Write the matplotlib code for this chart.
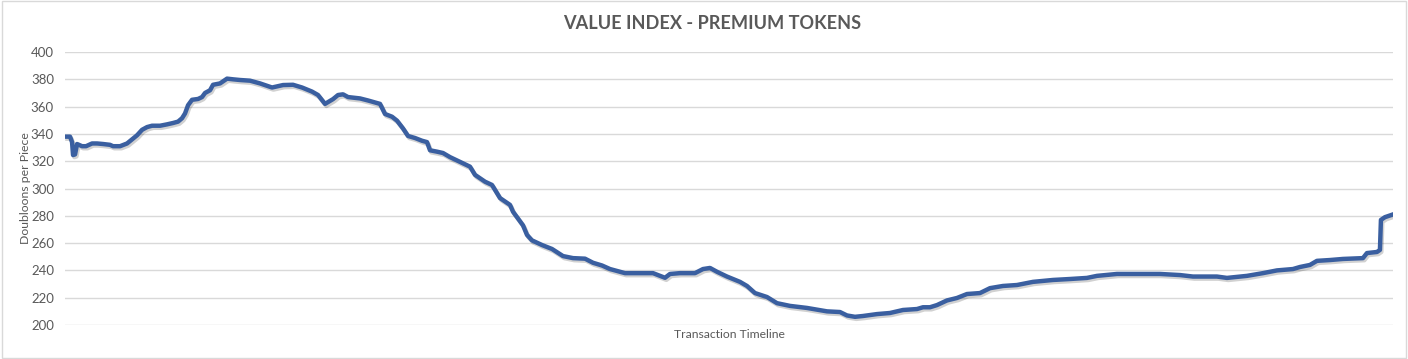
import matplotlib
matplotlib.use("Agg")
from matplotlib import pyplot as plt
import matplotlib.patheffects as pe

# value index (transaction position, doubloons per piece)
# rows of ten so the two lists line up
timeline = [1, 5, 7, 8, 10, 12, 17, 21, 27, 32,
            38, 45, 48, 55, 62, 67, 72, 77, 82, 87,
            95, 102, 108, 113, 117, 120, 123, 127, 133, 137,
            140, 145, 148, 155, 162, 168, 175, 185, 195, 207,
            218, 228, 237, 247, 253, 260, 268, 273, 278, 283,
            295, 303, 315, 320, 327, 332, 338, 343, 350, 357,
            362, 365, 372, 378, 385, 395, 405, 410, 420, 427,
            435, 445, 448, 458, 462, 467, 477, 487, 498, 508,
            520, 528, 537, 545, 560, 588, 595, 600, 605, 615,
            630, 638, 645, 652, 662, 675, 682, 690, 702, 712,
            725, 742, 762, 775, 782, 790, 798, 812, 825, 838,
            852, 858, 865, 872, 882, 892, 902, 915, 925, 938,
            952, 968, 988, 1005, 1022, 1032, 1052, 1095, 1115, 1128,
            1152, 1162, 1182, 1198, 1212, 1228, 1235, 1245, 1252, 1265,
            1278, 1298, 1302, 1312, 1315, 1316, 1320, 1328]
doubloons = [338, 338, 334, 324.5, 325, 332.6, 331, 331, 333, 333,
             332.6, 332, 331, 331, 333, 336, 339, 343, 345, 346,
             346, 347, 348, 349, 351.5, 355, 361, 365, 365.6, 367,
             370, 372, 376, 377, 380.5, 380, 379.5, 379, 377, 374,
             375.8, 376, 374, 371, 368.5, 362, 365.5, 368.5, 369, 367,
             366, 364.5, 362, 354.6, 352.6, 349.7, 344, 338.5, 337, 335,
             334, 328, 327, 326, 323, 319.5, 316, 310, 305, 302.6,
             293, 288, 283, 273, 266, 262, 258.6, 255.7, 250.5, 249,
             248.6, 245.6, 243.6, 241, 238, 238, 236, 234.6, 237.4, 238,
             238, 241, 241.8, 239, 235.5, 231.6, 228.6, 223.4, 220.5, 216,
             214, 212.5, 210, 209.5, 207, 206, 206.6, 208, 208.8, 211,
             211.7, 213, 213, 214.6, 218, 219.8, 222.7, 223.4, 227, 228.6,
             229.3, 231.6, 233, 233.7, 234.5, 236, 237.4, 237.4, 236.6, 235.5,
             235.5, 234.5, 236, 238, 240, 241, 242.5, 244, 247, 247.6,
             248.4, 249, 252.7, 253.5, 255, 277, 279, 281]

y_ticks = [200, 220, 240, 260, 280, 300, 320, 340, 360, 380, 400]

text_gray = "#595959"
line_blue = "#3A5FA0"

fig = plt.figure(figsize=(14.08, 3.59), dpi=100)
fig.patch.set_facecolor("white")
# light border around the whole chart
fig.add_artist(plt.Rectangle((0.0015, 0.003), 0.997, 0.994, transform=fig.transFigure,
                             fill=False, edgecolor="#D9D9D9", linewidth=1))

ax = fig.add_axes([0.0462, 0.0947, 0.9431, 0.7604])
ax.plot(timeline, doubloons, color=line_blue, linewidth=3.2, solid_joinstyle="round",
        path_effects=[pe.SimpleLineShadow(offset=(1, -1.5), shadow_color="black", alpha=0.18),
                      pe.Normal()])

ax.set_xlim(0, 1328)
ax.set_ylim(200, 400)
ax.set_yticks(y_ticks)
ax.set_xticks([])
for s in ax.spines.values():
    s.set_visible(False)
ax.grid(axis="y", color="#D9D9D9", linewidth=1)
ax.set_axisbelow(True)
ax.tick_params(axis="y", length=0, pad=8, labelsize=9.5, labelcolor=text_gray)
for lab in ax.get_yticklabels():
    lab.set_fontfamily("Lato")

ax.set_ylabel("Doubloons per Piece", fontsize=8.8, color=text_gray, family="Lato")
ax.yaxis.set_label_coords(-0.0256, 0.5)
ax.set_xlabel("Transaction Timeline", fontsize=8.7, color=text_gray, family="Lato", labelpad=3)

fig.text(0.5055, 0.934, "VALUE INDEX - PREMIUM TOKENS", ha="center", va="center",
         fontsize=13.1, fontweight="bold", color=text_gray, family="Lato")

fig.savefig("out.png", dpi=100)
